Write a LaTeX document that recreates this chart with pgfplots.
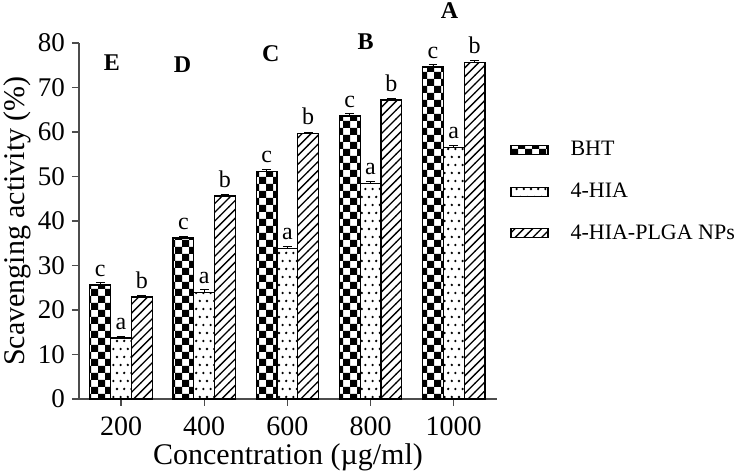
\documentclass[border=0pt]{standalone}
\usepackage{fontspec}
\setmainfont{Liberation Serif}
\usepackage{pgfplots}
\usepackage{pgfplotstable}
\pgfplotsset{compat=1.18}
\usetikzlibrary{patterns}

\pgfdeclarepatternformonly{mychecker}{\pgfqpoint{-.05pt}{-.05pt}}{\pgfqpoint{7.05pt}{7.05pt}}{\pgfqpoint{7pt}{7pt}}{%
  \pgfpathrectangle{\pgfqpoint{0pt}{0pt}}{\pgfqpoint{3.5pt}{3.5pt}}%
  \pgfpathrectangle{\pgfqpoint{3.5pt}{3.5pt}}{\pgfqpoint{3.5pt}{3.5pt}}%
  \pgfusepath{fill}}
\pgfdeclarepatternformonly{mydots}{\pgfqpoint{-.5pt}{-.5pt}}{\pgfqpoint{4pt}{8.5pt}}{\pgfqpoint{3.6pt}{8pt}}{%
  \pgfpathcircle{\pgfqpoint{0.9pt}{1pt}}{0.65pt}%
  \pgfpathcircle{\pgfqpoint{2.7pt}{5pt}}{0.65pt}%
  \pgfusepath{fill}}
\pgfdeclarepatternformonly{myhatch}{\pgfqpoint{-1pt}{-1pt}}{\pgfqpoint{5.5pt}{5.5pt}}{\pgfqpoint{4.4pt}{4.4pt}}{%
  \pgfsetlinewidth{0.65pt}%
  \pgfpathmoveto{\pgfqpoint{-0.1pt}{-0.1pt}}%
  \pgfpathlineto{\pgfqpoint{4.5pt}{4.5pt}}%
  \pgfusepath{stroke}}

\pgfplotstableread{
x  y     e    lab
0  25.6  0.5  c
1  36.2  0.4  c
2  51.2  0.4  c
3  63.6  0.5  c
4  74.6  0.5  c
}\bht
\pgfplotstableread{
x  y     e    lab
0  13.7  0.4  a
1  24.0  0.5  a
2  33.9  0.4  a
3  48.5  0.4  a
4  56.6  0.4  a
}\hia
\pgfplotstableread{
x  y     e    lab
0  22.9  0.4  b
1  45.6  0.4  b
2  59.6  0.4  b
3  67.2  0.4  b
4  75.7  0.4  b
}\nps

\begin{document}
\begin{tikzpicture}
\begin{axis}[
  scale only axis, width=209pt, height=178pt,
  xmin=-0.505, xmax=4.52, ymin=0, ymax=80,
  axis lines=left,
  axis line style={-, line width=0.6pt, draw=black!70},
  xtick={0,1,2,3,4}, xticklabels={200,400,600,800,1000},
  ytick={0,10,...,80},
  tick align=outside, major tick length=3.5pt,
  tick style={line width=0.6pt, draw=black!70},
  yticklabel style={font=\fontsize{13.5}{15}\selectfont},
  xticklabel style={font=\fontsize{14}{16}\selectfont, yshift=-2pt},
  /pgf/number format/assume math mode=true,
  xlabel={Concentration (µg/ml)},
  ylabel={Scavenging activity (\%)},
  xlabel style={font=\fontsize{15}{17}\selectfont, yshift=3pt},
  ylabel style={font=\fontsize{15}{17}\selectfont, yshift=-3.5pt},
  ybar, bar width=10.4pt,
  clip=false,
  legend style={at={(rel axis cs:1.031,0.582)}, anchor=west, draw=none, fill=none,
    inner sep=0pt, font=\fontsize{11}{13}\selectfont, row sep=8pt,
    cells={anchor=west}},
  nodes near coords,
  point meta=explicit symbolic,
  every node near coord/.append style={font=\fontsize{12}{14}\selectfont, inner sep=0pt, anchor=south, yshift=4pt},
  mylegend/.style={legend image code/.code={\draw[##1, bar shift=0pt] (0pt,-2.25pt) rectangle (18.5pt,2.25pt); \path (27.5pt,0pt);}},
]
\addplot[draw=black, line width=0.6pt, pattern=mychecker, bar shift=-10.4pt, mylegend,
  error bars/.cd, y dir=plus, y explicit, error mark options={rotate=90, mark size=2.2pt, line width=0.5pt}]
  table[x=x, y=y, y error=e, meta=lab] {\bht};
\addplot[draw=black, line width=0.6pt, pattern=mydots, bar shift=0pt, mylegend,
  error bars/.cd, y dir=plus, y explicit, error mark options={rotate=90, mark size=2.2pt, line width=0.5pt}]
  table[x=x, y=y, y error=e, meta=lab] {\hia};
\addplot[draw=black, line width=0.6pt, pattern=myhatch, bar shift=10.4pt, mylegend,
  error bars/.cd, y dir=plus, y explicit, error mark options={rotate=90, mark size=2.2pt, line width=0.5pt}]
  table[x=x, y=y, y error=e, meta=lab] {\nps};
\legend{BHT, 4-HIA, 4-HIA-PLGA NPs}
\node[font=\bfseries\fontsize{12}{14}\selectfont] at (axis cs:-0.11,75.7) {E};
\node[font=\bfseries\fontsize{12}{14}\selectfont] at (axis cs:0.74,75.1) {D};
\node[font=\bfseries\fontsize{12}{14}\selectfont] at (axis cs:1.80,77.5) {C};
\node[font=\bfseries\fontsize{12}{14}\selectfont] at (axis cs:2.94,80.2) {B};
\node[font=\bfseries\fontsize{12}{14}\selectfont] at (axis cs:3.95,87.2) {A};
\end{axis}
\pgfresetboundingbox
\path (-39.5pt,-36pt) rectangle (328pt,199.5pt);
\end{tikzpicture}
\end{document}
